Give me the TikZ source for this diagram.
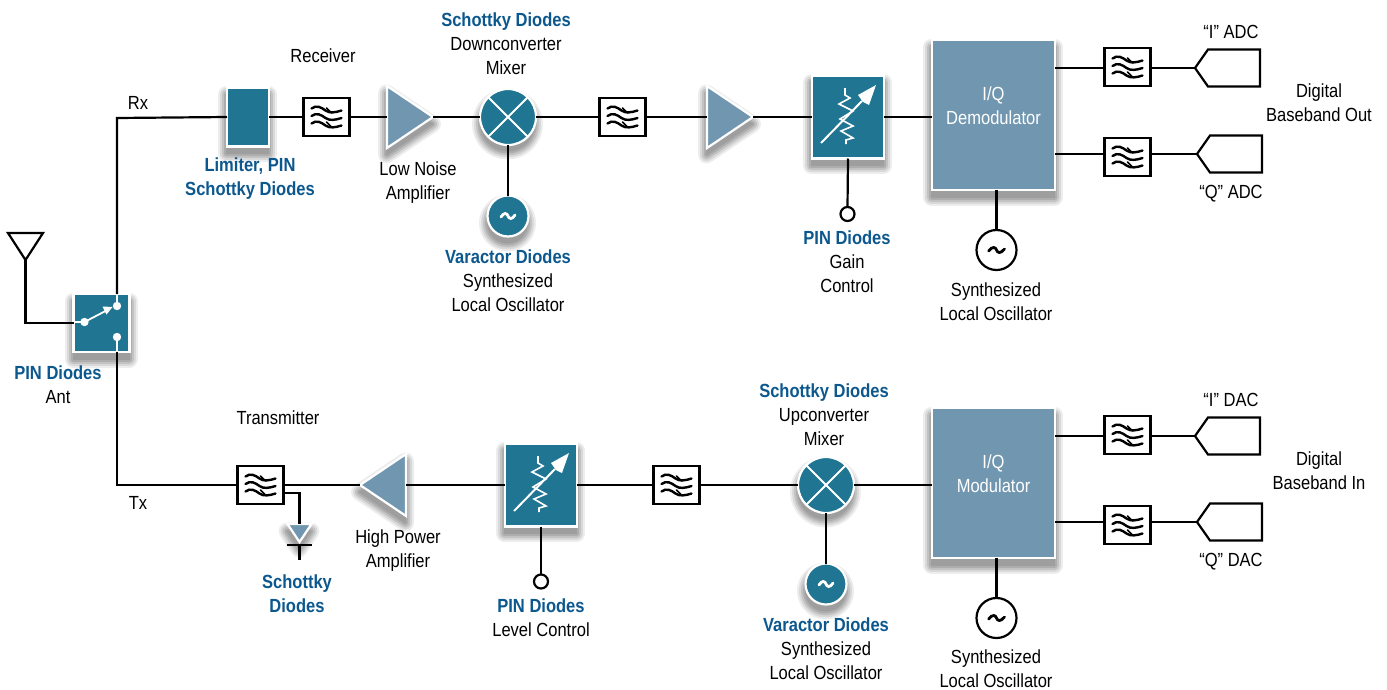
\documentclass[tikz,border=0pt]{standalone}
\usepackage{fontspec}
\setmainfont[FakeStretch=0.87]{Liberation Sans}
\usetikzlibrary{shapes.geometric,arrows.meta,backgrounds}
\definecolor{tealc}{RGB}{31,117,146}
\definecolor{steelc}{RGB}{112,150,176}
\definecolor{labelc}{RGB}{12,88,142}
\newcommand\PX{0.75pt}
\tikzset{
  wire/.style={draw=black,line width=2.2*\PX,line join=miter},
  tealbox/.style={rectangle,fill=tealc,draw=white,inner sep=0,outer sep=0},
  steelbox/.style={rectangle,fill=steelc,draw=white,inner sep=0,outer sep=0,
    minimum width=123*\PX,minimum height=150*\PX,text=white,align=center,
    font=\fontsize{14.25pt}{18pt}\selectfont},
  filterbox/.style={rectangle,fill=white,draw=black,inner sep=0,outer sep=0,
    minimum width=46*\PX,minimum height=38*\PX,
    path picture={\begin{scope}[shift={(path picture bounding box.center)},line width=2.4*\PX,line cap=round]
      \foreach \d in {-7.5,0,7.5}{\draw (-15,\d-1) .. controls (-10,\d-5) and (-5,\d-2) .. (-1,\d+1) .. controls (3,\d+4) and (9,\d+3) .. (15,\d+1);}
      \draw[line width=1.5*\PX] (0,-9) -- (5,-4) (0,5) -- (5,10);
    \end{scope}}},
  ampshape/.style={isosceles triangle,isosceles triangle stretches,fill=steelc,draw=white,
    inner sep=0,outer sep=0,minimum width=62*\PX,minimum height=46*\PX},
  mixernode/.style={circle,fill=tealc,draw=white,inner sep=0,outer sep=0,minimum size=56*\PX,
    path picture={\begin{scope}[shift={(path picture bounding box.center)}]
      \draw[white,line width=2*\PX] (-22,-22) -- (22,22) (-22,22) -- (22,-22);
    \end{scope}}},
  oscnode/.style={circle,fill=tealc,draw=white,inner sep=0,outer sep=0,minimum size=41*\PX,
    path picture={\begin{scope}[shift={(path picture bounding box.center)}]
      \draw[white,line width=2.8*\PX,line cap=round] (-7,1) .. controls (-4,-4) and (-1,-3) .. (0,0) .. controls (1,3) and (4,4) .. (7,-1);
    \end{scope}}},
  plainosc/.style={circle,fill=white,draw=black,inner sep=0,outer sep=0,minimum size=40*\PX,
    path picture={\begin{scope}[shift={(path picture bounding box.center)}]
      \draw[black,line width=2.8*\PX,line cap=round] (-8,1) .. controls (-4,-4) and (-1,-3) .. (0,0) .. controls (1,3) and (4,4) .. (8,-1);
    \end{scope}}},
  portnode/.style={circle,fill=white,draw=black,inner sep=0,outer sep=0,minimum size=14*\PX},
  attenbox/.style={tealbox,minimum width=72*\PX,minimum height=83*\PX,
    path picture={\begin{scope}[shift={(path picture bounding box.center)},white]
      \draw[line width=1.6*\PX] (-3,-29) -- (-3,-22) -- (2,-19) -- (-9,-13) -- (5,-6) -- (-8,2) -- (5,9) -- (-7,14) -- (5,21) -- (-2,23) -- (-2,27);
      \draw[line width=2*\PX] (-27,26) -- (14,-16);
      \fill (28,-32) -- (21,-12) -- (15,-15) -- (10,-22) -- cycle;
    \end{scope}}},
  switchbox/.style={tealbox,minimum width=56*\PX,minimum height=58*\PX,
    path picture={\begin{scope}[shift={(path picture bounding box.center)},white]
      \draw[line width=2.2*\PX] (-30,-1) -- (-17,-1) (15.5,-32) -- (15.5,-17) (15.5,32) -- (15.5,14);
      \fill (-17,-1) circle (4.2) (15.5,-17) circle (4.2) (15.5,14) circle (4.2);
      \draw[line width=1.8*\PX] (-17,-1) -- (4,-12);
      \fill (11,-16) -- (1,-16.5) -- (5,-8.5) -- cycle;
    \end{scope}}},
  antnode/.style={isosceles triangle,isosceles triangle stretches,shape border rotate=-90,fill=white,draw=black,
    inner sep=0,outer sep=0,minimum width=35*\PX,minimum height=27*\PX},
  diodenode/.style={isosceles triangle,isosceles triangle stretches,shape border rotate=-90,fill=steelc,draw=white,
    inner sep=0,outer sep=0,minimum width=24*\PX,minimum height=18*\PX},
  txt/.style={inner sep=0,outer sep=0,align=center,text=black,font=\fontsize{14.25pt}{18pt}\selectfont},
  softoff/.style={shift={(-0.5,7)}},
}
\newcommand\hl[1]{{\color{labelc}\bfseries #1}}
\newcommand\adcshape[2]{% apex x, y
  \draw[wire,fill=white] (#1,#2) -- (#1+13,#2-18.5) -- (#1+65,#2-18.5) -- (#1+65,#2+18.5) -- (#1+13,#2+18.5) -- cycle;}
% soft shadow: stacked grey copies of an outline, from wide and pale to narrow and dark
\newcommand\softlayers[1]{%
  \path[draw=black!7,fill=black!7,line join=round,line width=17*\PX] #1;
  \path[draw=black!15,fill=black!15,line join=round,line width=13*\PX] #1;
  \path[draw=black!24,fill=black!24,line join=round,line width=9*\PX] #1;
  \path[draw=black!32,fill=black!32,line join=round,line width=5*\PX] #1;
  \path[draw=black!38,fill=black!38,line join=round,line width=1*\PX] #1;}
\newcommand\shadowrect[1]{\softlayers{([softoff]#1.north west) rectangle ([softoff]#1.south east)}}
\newcommand\shadowcirc[2]{\softlayers{([softoff]#1.center) circle (#2)}}
\newcommand\shadowtri[1]{\softlayers{([softoff]#1.apex) -- ([softoff]#1.left corner) -- ([softoff]#1.right corner) -- cycle}}
\begin{document}
\begin{tikzpicture}[x=0.75pt,y=-0.75pt,line width=2.2*\PX]
\useasboundingbox (0,0) rectangle (1387,689);

% --- receive chain
\node[antnode,anchor=apex] (ant) at (25.5,260) {};
\node[switchbox] (sw) at (101.5,323) {};
\node[tealbox,minimum width=42*\PX,minimum height=59*\PX] (lim) at (248,117) {};
\node[filterbox] (rf1) at (326.5,117) {};
\node[ampshape,anchor=apex] (lna) at (433,117) {};
\node[mixernode] (rmix) at (508,117) {};
\node[oscnode] (rosc) at (508,216) {};
\node[filterbox] (rf2) at (622.5,117) {};
\node[ampshape,anchor=apex] (ramp) at (753,117) {};
\node[attenbox] (ratt) at (848,117) {};
\node[portnode] (rport) at (847.5,214) {};
\node[steelbox] (demod) at (993.5,115) {};
\node[plainosc] (dosc) at (996.5,250) {};
\node[filterbox] (rfi) at (1127.5,67) {};
\node[filterbox] (rfq) at (1127.5,157) {};
\adcshape{1195}{68}
\coordinate (adci) at (1195,68);
\adcshape{1197}{154}
\coordinate (adcq) at (1197,154);

% --- transmit chain
\node[filterbox] (tf1) at (260.5,485) {};
\node[ampshape,anchor=apex,shape border rotate=180] (hpa) at (360,485) {};
\node[diodenode,anchor=apex] (dio) at (299.5,542) {};
\coordinate (diobar) at (299.5,545);
\node[attenbox] (tatt) at (541,485) {};
\node[portnode] (tport) at (541,581.5) {};
\node[filterbox] (tf2) at (676.5,485) {};
\node[mixernode] (tmix) at (826,485) {};
\node[oscnode] (tosc) at (826,584) {};
\node[steelbox] (mod) at (993.5,483) {};
\node[plainosc] (mosc) at (996.5,618) {};
\node[filterbox] (tfi) at (1127.5,435) {};
\node[filterbox] (tfq) at (1127.5,525) {};
\adcshape{1195}{436}
\coordinate (daci) at (1195,436);
\adcshape{1197}{522}
\coordinate (dacq) at (1197,522);

% --- soft shadows, behind every block
\begin{pgfonlayer}{background}
\shadowrect{sw}\shadowrect{lim}\shadowrect{ratt}\shadowrect{demod}
\shadowrect{tatt}\shadowrect{mod}
\shadowcirc{rmix}{27}\shadowcirc{tmix}{27}\shadowcirc{rosc}{20}\shadowcirc{tosc}{20}
\shadowtri{lna}\shadowtri{ramp}\shadowtri{hpa}\shadowtri{dio}
\end{pgfonlayer}

% --- connectors
\draw[wire] (ant.apex) |- (sw.west);
\draw[wire] (sw.north -| 117,0) -- (117,118) -- (lim.west);
\draw[wire] (sw.south -| 117,0) -- (117,485) -- (tf1.west);
\draw[wire] (lim.east) -- (rf1.west);
\draw[wire] (rf1.east) -- (lna.lower side);
\draw[wire] (lna.apex) -- (rmix.west);
\draw[wire] (rmix.south) -- (rosc.north);
\draw[wire] (rmix.east) -- (rf2.west);
\draw[wire] (rf2.east) -- (ramp.lower side);
\draw[wire] (ramp.apex) -- (ratt.west);
\draw[wire] (ratt.south) -- (rport.north);
\draw[wire] (ratt.east) -- (demod.west |- ratt.east);
\draw[wire] (demod.south -| dosc.north) -- (dosc.north);
\draw[wire] (demod.east |- adci) -- (rfi.west |- adci);
\draw[wire] (rfi.east |- adci) -- (adci);
\draw[wire] (demod.east |- adcq) -- (rfq.west |- adcq);
\draw[wire] (rfq.east |- adcq) -- (adcq);
\draw[wire] (tf1.east) -- (hpa.apex);
\draw[wire] (tf1.east |- 0,493) -- (299.5,493) -- (dio.north);
\draw[wire] (hpa.lower side) -- (tatt.west);
\draw[wire] (tatt.south) -- (tport.north);
\draw[wire] (tatt.east) -- (tf2.west);
\draw[wire] (tf2.east) -- (tmix.west);
\draw[wire] (tmix.south) -- (tosc.north);
\draw[wire] (tmix.east) -- (mod.west |- tmix.east);
\draw[wire] (mod.south -| mosc.north) -- (mosc.north);
\draw[wire] (mod.east |- daci) -- (tfi.west |- daci);
\draw[wire] (tfi.east |- daci) -- (daci);
\draw[wire] (mod.east |- dacq) -- (tfq.west |- dacq);
\draw[wire] (tfq.east |- dacq) -- (dacq);
\draw[wire] (287,545) -- (312,545) (diobar) -- (299.5,560);

% --- block texts
\node[txt,text=white] (tdemod) at (993.5,105.5) {I/Q\\Demodulator};
\node[txt,text=white] (tmod) at (993.5,473.5) {I/Q\\Modulator};

% --- labels
\node[txt] (l1) at (323,55.5) {Receiver};
\node[txt] (l2) at (138,102.5) {Rx};
\node[txt] (l3) at (250,179) {\hl{Limiter, PIN}\\\hl{Schottky Diodes}};
\node[txt] (l4) at (418,183) {Low Noise\\Amplifier};
\node[txt] (l5) at (506,43.5) {\hl{Schottky Diodes}\\Downconverter\\Mixer};
\node[txt] (l6) at (508,280.5) {\hl{Varactor Diodes}\\Synthesized\\Local Oscillator};
\node[txt] (l7) at (847,261.5) {\hl{PIN Diodes}\\Gain\\Control};
\node[txt] (l8) at (996,301.5) {Synthesized\\Local Oscillator};
\node[txt] (l9) at (1231,31.5) {“I” ADC};
\node[txt] (l10) at (1231,194) {“Q” ADC};
\node[txt] (l11) at (1319,102.5) {Digital\\Baseband Out};
\node[txt] (l12) at (58,385) {\hl{PIN Diodes}\\Ant};
\node[txt] (l13) at (278,417.5) {Transmitter};
\node[txt] (l14) at (138,502.5) {Tx};
\node[txt] (l15) at (297,594) {\hl{Schottky}\\\hl{Diodes}};
\node[txt] (l16) at (398,551) {High Power\\Amplifier};
\node[txt] (l17) at (541,617.5) {\hl{PIN Diodes}\\Level Control};
\node[txt] (l18) at (824,414.5) {\hl{Schottky Diodes}\\Upconverter\\Mixer};
\node[txt] (l19) at (826,648.5) {\hl{Varactor Diodes}\\Synthesized\\Local Oscillator};
\node[txt] (l20) at (996,668.5) {Synthesized\\Local Oscillator};
\node[txt] (l21) at (1231,399.5) {“I” DAC};
\node[txt] (l22) at (1231,562) {“Q” DAC};
\node[txt] (l23) at (1319,470.5) {Digital\\Baseband In};
\end{tikzpicture}
\end{document}
